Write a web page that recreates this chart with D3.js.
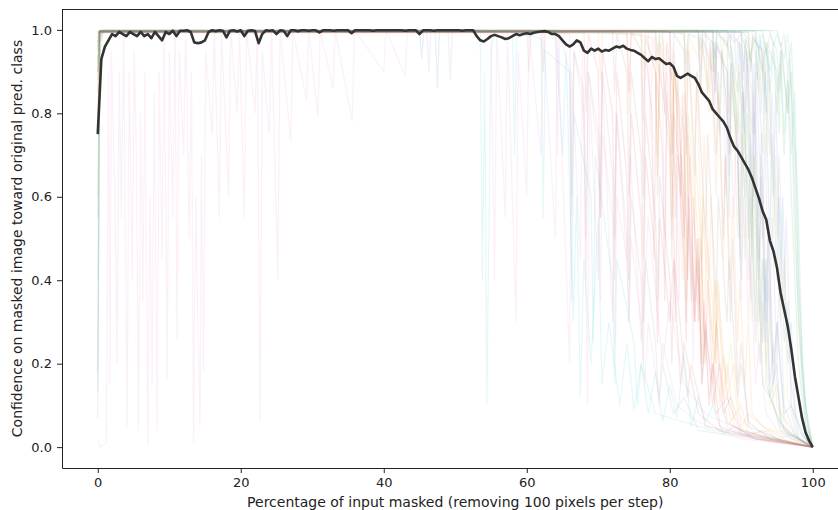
<!DOCTYPE html>
<html>
<head>
<meta charset="utf-8">
<script src="https://cdn.jsdelivr.net/npm/d3@7"></script>
<style>
  body { margin: 0; background: #fff; }
  #chart { width: 838px; height: 510px; }
  text { font-family: "DejaVu Sans", sans-serif; }
  .axis text { font-size: 13px; fill: #222; }
  .axis line, .axis path { stroke: #222; }
</style>
</head>
<body>
<div id="chart"></div>
<script>
// Axis ticks
const xTicks = [0, 20, 40, 60, 80, 100];
const yTicks = [0, 0.2, 0.4, 0.6, 0.8, 1.0];

// Mean confidence, one value every 0.5 % masked (0 .. 100)
const meanStep = 0.5;
const meanConf = [
  0.75, 0.93, 0.96, 0.975, 0.99, 0.985, 0.995, 0.99, 0.985, 0.995,
  0.99, 0.985, 0.995, 0.985, 0.99, 0.98, 0.995, 0.985, 0.975, 0.995,
  0.99, 0.998, 0.985, 0.998, 0.998, 0.999, 0.995, 0.97, 0.968, 0.97,
  0.975, 0.995, 0.999, 0.997, 0.999, 0.998, 0.982, 0.998, 0.999, 0.996,
  0.999, 0.985, 0.998, 0.999, 0.997, 0.968, 0.99, 0.999, 0.998, 0.999,
  0.99, 0.999, 0.998, 0.985, 0.999, 0.999, 0.997, 0.999, 0.999, 0.998,
  0.999, 0.999, 0.994, 0.999, 0.999, 0.999, 0.998, 0.999, 0.999, 0.999,
  0.999, 0.992, 0.999, 0.999, 0.999, 0.999, 0.999, 0.998, 0.999, 0.999,
  0.999, 0.999, 0.999, 0.999, 0.999, 0.999, 0.998, 0.999, 0.999, 0.999,
  0.99, 0.999, 0.999, 0.999, 0.998, 0.999, 0.999, 0.999, 0.999, 0.999,
  0.999, 0.999, 0.998, 0.999, 0.999, 0.999, 0.985, 0.975, 0.972, 0.978,
  0.985, 0.988, 0.985, 0.982, 0.978, 0.98, 0.985, 0.99, 0.987, 0.99,
  0.992, 0.99, 0.993, 0.995, 0.996, 0.997, 0.995, 0.99, 0.99, 0.985,
  0.975, 0.965, 0.96, 0.965, 0.975, 0.97, 0.95, 0.945, 0.955, 0.95,
  0.955, 0.948, 0.952, 0.95, 0.955, 0.96, 0.958, 0.962, 0.955, 0.952,
  0.95, 0.945, 0.94, 0.932, 0.925, 0.935, 0.93, 0.932, 0.925, 0.918,
  0.92, 0.912, 0.89, 0.885, 0.89, 0.895, 0.89, 0.885, 0.87, 0.85,
  0.84, 0.83, 0.81, 0.8, 0.79, 0.78, 0.765, 0.74, 0.72, 0.71,
  0.695, 0.68, 0.665, 0.645, 0.62, 0.595, 0.565, 0.545, 0.495, 0.47,
  0.43, 0.37, 0.33, 0.29, 0.235, 0.17, 0.12, 0.07, 0.035, 0.015,
  0.0
];

// Individual images: [percent masked, confidence]
const imgCurves = [
  [[0,0.13],[0.3,0.98],[0.6,0.997],[45,0.997],[45.3,0.93],[45.6,0.997],[47.2,0.997],[47.5,0.86],[47.8,0.997],[78,0.997],[78.3,0.94],[78.6,0.997],[82,0.99],[82.3,0.9],[82.6,0.99],[84,0.98],[84.3,0.85],[84.6,0.98],[86,0.9],[86.3,0.97],[87,0.75],[87.3,0.95],[88,0.8],[88.3,0.55],[88.6,0.92],[89.5,0.7],[90,0.4],[90.3,0.85],[91,0.5],[91.3,0.75],[92,0.3],[92.3,0.6],[93,0.25],[93.5,0.45],[94,0.12],[95,0.2],[95.5,0.06],[97,0.03],[100,0]],
  [[0,0.6],[0.3,0.99],[1,0.995],[70,0.995],[70.3,0.88],[70.6,0.995],[74,0.99],[74.3,0.8],[74.6,0.99],[78,0.98],[78.3,0.65],[78.6,0.97],[80,0.9],[80.3,0.55],[80.6,0.92],[81.5,0.75],[81.8,0.4],[82.1,0.85],[83,0.6],[83.3,0.3],[83.6,0.7],[84.5,0.45],[84.8,0.2],[85.1,0.5],[86,0.25],[86.3,0.4],[87,0.1],[87.5,0.22],[88.5,0.06],[90,0.1],[91,0.03],[94,0.04],[97,0.01],[100,0]],
  [[0,0.18],[0.3,0.97],[0.8,0.999],[88,0.999],[89,0.97],[90,0.99],[91,0.93],[92,0.98],[93,0.9],[93.5,0.97],[94,0.85],[94.5,0.95],[95,0.8],[95.5,0.92],[96,0.7],[96.5,0.88],[97,0.6],[97.5,0.4],[98,0.2],[99,0.05],[100,0]],
  [[0,0.9],[0.3,0.996],[74,0.996],[74.3,0.85],[74.6,0.996],[76,0.95],[76.3,0.6],[76.6,0.95],[77.5,0.8],[77.8,0.45],[78.1,0.9],[79,0.7],[79.3,0.35],[79.6,0.85],[80.5,0.6],[80.8,0.3],[81.1,0.7],[82,0.45],[82.3,0.25],[82.6,0.55],[83.5,0.3],[84,0.45],[84.5,0.15],[85,0.3],[86,0.1],[87,0.2],[88,0.06],[90,0.04],[92,0.02],[100,0]],
  [[0,0.07],[0.3,0.95],[0.8,0.998],[46,0.998],[46.3,0.9],[46.6,0.998],[49,0.998],[49.3,0.88],[49.6,0.998],[84,0.995],[84.3,0.9],[84.6,0.99],[86,0.97],[86.3,0.82],[86.6,0.96],[88,0.9],[88.3,0.7],[88.6,0.92],[89.5,0.8],[89.8,0.5],[90.1,0.85],[91,0.6],[91.3,0.35],[91.6,0.65],[92.5,0.4],[92.8,0.2],[93.1,0.45],[94,0.15],[94.5,0.25],[95.5,0.06],[97,0.02],[100,0]],
  [[0,0.85],[0.3,0.994],[62,0.994],[62.3,0.9],[62.6,0.994],[76,0.99],[76.3,0.78],[76.6,0.98],[78,0.9],[78.3,0.6],[78.6,0.92],[80,0.7],[80.3,0.45],[80.6,0.8],[82,0.55],[82.3,0.3],[82.6,0.6],[83.5,0.35],[84,0.5],[84.5,0.15],[85,0.28],[86.5,0.08],[88,0.12],[90,0.03],[100,0]],
  [[0,0.02],[0.3,0],[1.2,0.01],[1.5,0.9],[1.7,0.15],[1.9,0.95],[2.4,0.6],[2.7,0.2],[3,0.9],[3.3,0.55],[3.6,1],[4.1,0.05],[4.4,0.9],[4.8,0.4],[5.1,0.95],[5.4,0.7],[5.7,0.04],[6,0.8],[6.3,0.35],[6.6,0.9],[7,0.005],[7.3,0.6],[7.6,0.15],[7.9,0.85],[8.3,0.04],[8.6,0.9],[9,0.45],[9.3,1],[9.7,0.16],[10,0.95],[10.5,0.55],[10.8,1],[11.1,0.26],[11.4,0.95],[12,0.7],[12.3,1],[12.8,0.5],[13.1,0.9],[13.4,0.01],[13.7,0.6],[14,0.3],[14.3,0.05],[14.5,0.7],[14.8,0.18],[15.1,0.95],[16,0.75],[16.3,1],[17,0.55],[17.3,1],[18.3,0.6],[18.6,1],[19.5,0.8],[19.8,1],[20.5,0.55],[20.8,1],[22,0.8],[22.3,1],[22.7,0.06],[23,0.95],[24,0.75],[24.3,1],[25.2,0.4],[25.5,1],[27,0.73],[27.3,1],[29.2,0.83],[29.5,1],[30.8,0.79],[31.1,1],[32.9,0.86],[33.2,1],[35.6,0.78],[35.9,1],[40,0.9],[40.3,1],[43,0.89],[43.3,1],[55,1],[55.5,0.4],[55.8,1],[57,0.55],[57.3,1],[58.5,0.3],[58.8,0.95],[60,0.6],[60.3,1],[62,0.7],[62.3,1],[64,0.5],[64.3,1],[66,0.2],[66.3,0.9],[67.5,0.45],[67.8,0.95],[68.5,0.1],[68.8,0.85],[70,0.4],[70.5,0.9],[72,0.3],[72.5,0.8],[74,0.45],[74.5,0.7],[76,0.25],[77,0.55],[79,0.2],[80,0.35],[82,0.15],[85,0.08],[90,0.04],[100,0]],
  [[0,0.95],[0.3,0.997],[60,0.997],[60.3,0.9],[60.6,0.997],[66,0.99],[66.3,0.6],[66.6,0.95],[68,0.85],[68.3,0.5],[68.6,0.9],[70,0.75],[70.3,0.55],[70.6,0.9],[72,0.65],[72.3,0.4],[72.6,0.8],[74,0.5],[74.3,0.3],[74.6,0.6],[76,0.4],[76.3,0.2],[76.6,0.45],[78,0.25],[78.5,0.1],[79,0.2],[80.5,0.08],[82,0.12],[84,0.04],[88,0.03],[92,0.02],[100,0]],
  [[0,0.92],[0.3,0.995],[82,0.995],[82.3,0.92],[82.6,0.99],[84,0.93],[84.3,0.99],[85.5,0.85],[85.8,0.97],[87,0.8],[87.3,0.95],[88.5,0.7],[88.8,0.9],[89.5,0.5],[89.8,0.8],[90.5,0.45],[90.8,0.7],[91.5,0.3],[91.8,0.55],[92.5,0.2],[93,0.35],[94,0.1],[95,0.15],[96,0.04],[100,0]],
  [[0,0.4],[0.3,0.97],[0.8,1],[53.5,1],[53.8,0.4],[54.1,0.9],[54.4,0.1],[54.7,0.5],[55,0.95],[55.5,1],[64,1],[65,0.7],[65.5,0.95],[66.5,0.3],[67,0.6],[67.5,0.12],[68,0.45],[69,0.2],[70,0.55],[70.5,0.15],[71.5,0.3],[73,0.1],[74,0.25],[75,0.09],[76,0.2],[77,0.08],[78,0.18],[79,0.06],[80,0.15],[81,0.07],[82,0.22],[83,0.05],[84,0.12],[85,0.06],[86,0.1],[87.5,0.03],[89,0.05],[91,0.03],[93,0.04],[95,0.02],[97,0.03],[100,0]],
  [[0,0.98],[0.3,0.999],[86,0.999],[86.3,0.93],[86.6,0.999],[88,0.96],[88.3,0.99],[89.5,0.85],[89.8,0.97],[90.5,0.75],[90.8,0.93],[91.5,0.55],[91.8,0.8],[92.5,0.4],[92.8,0.7],[93.5,0.3],[93.8,0.5],[94.5,0.15],[95,0.3],[96,0.08],[97,0.1],[98,0.02],[100,0]],
  [[0,0.75],[0.3,0.998],[76,0.998],[76.3,0.9],[76.6,0.995],[78,0.9],[78.3,0.7],[78.6,0.97],[80,0.75],[80.3,0.5],[80.6,0.9],[82,0.6],[82.3,0.35],[82.6,0.75],[84,0.4],[84.3,0.2],[84.6,0.55],[86,0.25],[86.3,0.1],[86.6,0.35],[88,0.12],[89,0.2],[90,0.05],[91,0.08],[95,0.02],[100,0]],
  [[0,0.55],[0.3,0.996],[90,0.996],[91,0.98],[91.3,0.9],[91.6,0.98],[93,0.95],[93.3,0.85],[93.6,0.97],[95,0.9],[95.3,0.75],[95.6,0.95],[96.5,0.8],[97,0.9],[97.5,0.6],[98,0.3],[99,0.08],[100,0]],
  [[0,0.97],[0.3,0.993],[68,0.993],[68.3,0.8],[68.6,0.99],[70,0.9],[70.3,0.55],[70.6,0.95],[72,0.8],[72.3,0.5],[72.6,0.9],[74,0.65],[74.3,0.4],[74.6,0.8],[76,0.55],[76.3,0.3],[76.6,0.7],[78,0.45],[78.3,0.25],[78.6,0.55],[80,0.3],[80.5,0.45],[81.5,0.15],[82,0.25],[84,0.08],[87,0.04],[92,0.02],[100,0]],
  [[0,0.99],[0.3,0.998],[88,0.998],[88.3,0.93],[88.6,0.99],[90,0.96],[90.3,0.8],[90.6,0.95],[91.5,0.85],[91.8,0.6],[92.1,0.9],[93,0.5],[93.3,0.75],[94,0.3],[94.3,0.55],[95,0.2],[95.3,0.4],[96,0.1],[97.5,0.03],[100,0]],
  [[0,0.88],[0.3,0.997],[80,0.997],[80.3,0.88],[80.6,0.99],[82,0.95],[82.3,0.7],[82.6,0.95],[83.5,0.65],[83.8,0.9],[85,0.5],[85.3,0.75],[86.5,0.35],[86.8,0.6],[88,0.3],[88.3,0.45],[89.5,0.12],[90,0.2],[91,0.06],[94,0.02],[100,0]],
  [[0,0.9],[0.3,0.995],[64,0.995],[64.3,0.7],[64.6,0.99],[66,0.9],[66.3,0.55],[66.6,0.95],[68,0.8],[68.3,0.4],[68.6,0.9],[70,0.7],[70.3,0.35],[70.6,0.75],[72,0.55],[72.3,0.25],[72.6,0.6],[74,0.45],[74.3,0.3],[74.6,0.5],[76,0.3],[76.5,0.15],[77,0.3],[78.5,0.12],[79,0.25],[81,0.1],[84,0.06],[90,0.02],[100,0]],
  [[0,0.96],[0.3,0.999],[84,0.999],[84.3,0.95],[84.6,0.999],[86,0.97],[86.3,0.85],[86.6,0.97],[88,0.9],[88.3,0.65],[88.6,0.88],[89.5,0.7],[89.8,0.45],[90.1,0.75],[91,0.4],[91.3,0.6],[92,0.25],[92.5,0.4],[93,0.15],[94,0.12],[96,0.04],[100,0]],
  [[0,0.8],[0.3,0.994],[78,0.994],[78.3,0.9],[78.6,0.99],[80,0.92],[80.3,0.7],[80.6,0.9],[82,0.75],[82.3,0.55],[82.6,0.8],[84,0.5],[84.3,0.35],[84.6,0.6],[86,0.35],[86.3,0.2],[86.6,0.4],[88,0.15],[88.5,0.25],[89.5,0.08],[92,0.03],[100,0]],
  [[0,0.92],[0.3,0.998],[92,0.998],[92.5,0.95],[93,0.99],[94,0.9],[94.5,0.97],[95,0.85],[95.5,0.95],[96,0.75],[96.5,0.9],[97,0.7],[97.5,0.85],[98,0.4],[99,0.1],[100,0]],
  [[0,0.99],[0.3,0.995],[90,0.995],[90.3,0.9],[90.6,0.98],[91.5,0.92],[91.8,0.75],[92.1,0.95],[93,0.7],[93.3,0.9],[94,0.5],[94.3,0.75],[95,0.4],[95.3,0.6],[96,0.25],[96.5,0.35],[97,0.1],[98.5,0.03],[100,0]],
  [[0,0.97],[0.3,0.999],[84,0.999],[84.3,0.85],[84.6,0.97],[85.5,0.8],[85.8,0.95],[86.5,0.6],[86.8,0.85],[87.5,0.45],[87.8,0.7],[88.5,0.4],[88.8,0.6],[89.5,0.25],[89.8,0.4],[90.5,0.15],[91,0.3],[91.5,0.08],[93,0.05],[97,0.02],[100,0]],
  [[0,0.996],[86,0.996],[86.3,0.9],[86.6,0.99],[88,0.97],[88.3,0.8],[88.6,0.96],[89.5,0.75],[89.8,0.9],[90.5,0.6],[90.8,0.8],[91.5,0.45],[91.8,0.7],[92.5,0.3],[93,0.45],[93.5,0.15],[94.5,0.1],[95.5,0.04],[100,0]],
  [[0,0.99],[0.3,0.998],[79,0.998],[79.3,0.8],[79.6,0.97],[80.5,0.85],[80.8,0.55],[81.1,0.9],[82,0.5],[82.3,0.8],[83,0.35],[83.3,0.6],[84,0.3],[84.3,0.5],[85,0.2],[85.3,0.4],[86,0.15],[86.5,0.3],[87.5,0.08],[88.5,0.12],[90,0.04],[94,0.02],[100,0]],
  [[0,0.97],[0.3,0.994],[91,0.994],[91.3,0.9],[91.6,0.99],[92.5,0.95],[92.8,0.8],[93.1,0.97],[94,0.7],[94.3,0.85],[95,0.5],[95.3,0.7],[96,0.35],[96.3,0.55],[97,0.15],[98,0.04],[100,0]],
  [[0,0.997],[72,0.997],[72.3,0.85],[72.6,0.99],[74,0.9],[74.3,0.6],[74.6,0.9],[76,0.7],[76.3,0.45],[76.6,0.8],[78,0.55],[78.3,0.35],[78.6,0.65],[80,0.4],[80.3,0.2],[80.6,0.45],[82,0.2],[82.5,0.12],[83,0.2],[85,0.05],[100,0]],
  [[0,0.98],[0.3,0.996],[86,0.996],[86.3,0.85],[86.6,0.97],[87.5,0.9],[87.8,0.6],[88.1,0.9],[89,0.55],[89.3,0.8],[90,0.35],[90.3,0.6],[91,0.3],[91.3,0.45],[92,0.15],[92.5,0.25],[93.5,0.08],[95,0.04],[100,0]],
  [[0,0.99],[0.3,0.998],[93,0.998],[93.5,0.94],[94,0.99],[95,0.95],[95.3,0.85],[95.6,0.97],[96.5,0.8],[96.8,0.93],[97.5,0.5],[98.5,0.15],[100,0]],
  [[0,0.97],[0.3,0.995],[87,0.995],[87.3,0.92],[87.6,0.99],[89,0.9],[89.3,0.75],[89.6,0.92],[90.5,0.7],[90.8,0.88],[91.5,0.5],[91.8,0.7],[92.5,0.4],[92.8,0.6],[93.5,0.2],[94,0.3],[95,0.1],[97,0.03],[100,0]],
  [[0,0.9],[0.3,0.999],[94,0.999],[94.5,0.96],[95,0.99],[96,0.93],[96.5,0.99],[97,0.85],[97.5,0.7],[98.2,0.3],[99,0.06],[100,0]],
  [[0,0.995],[92,0.995],[92.3,0.88],[92.6,0.99],[93.5,0.8],[93.8,0.95],[94.5,0.6],[94.8,0.85],[95.5,0.4],[95.8,0.6],[96.5,0.2],[97,0.3],[97.5,0.08],[99,0.02],[100,0]],
  [[0,0.85],[0.3,0.997],[82,0.997],[82.3,0.8],[82.6,0.97],[83.5,0.7],[83.8,0.9],[84.5,0.45],[84.8,0.75],[85.5,0.4],[85.8,0.6],[86.5,0.2],[86.8,0.4],[87.5,0.12],[88,0.2],[89,0.05],[92,0.03],[100,0]],
  [[0,0.9],[0.3,0.998],[95,0.998],[95.5,0.96],[96,0.99],[96.5,0.9],[97,0.97],[97.5,0.75],[98,0.55],[98.5,0.2],[99.3,0.05],[100,0]],
  [[0,0.995],[80,0.995],[80.3,0.7],[80.6,0.95],[81.5,0.6],[81.8,0.85],[82.5,0.4],[82.8,0.7],[83.5,0.3],[83.8,0.5],[84.5,0.2],[84.8,0.35],[85.5,0.1],[86,0.2],[87,0.05],[90,0.03],[100,0]],
  [[0,0.98],[0.3,0.997],[89,0.997],[89.3,0.9],[89.6,0.98],[90.5,0.8],[90.8,0.95],[91.5,0.65],[91.8,0.85],[92.5,0.45],[92.8,0.65],[93.5,0.25],[93.8,0.4],[94.5,0.1],[95.5,0.05],[100,0]],
  [[0,0.93],[0.3,0.996],[85,0.996],[85.3,0.85],[85.6,0.97],[86.5,0.7],[86.8,0.9],[87.5,0.5],[87.8,0.7],[88.5,0.3],[88.8,0.5],[89.5,0.15],[90,0.25],[91,0.05],[95,0.02],[100,0]],
  [[0,0.96],[0.3,0.999],[77,0.999],[77.3,0.75],[77.6,0.98],[79,0.85],[79.3,0.5],[79.6,0.9],[81,0.6],[81.3,0.35],[81.6,0.7],[83,0.4],[83.3,0.2],[83.6,0.45],[85,0.25],[85.5,0.12],[86,0.2],[88,0.05],[92,0.02],[100,0]],
  [[0,0.994],[90,0.994],[90.3,0.88],[90.6,0.98],[91.5,0.75],[91.8,0.92],[92.5,0.55],[92.8,0.75],[93.5,0.35],[93.8,0.55],[94.5,0.2],[95,0.3],[96,0.07],[98,0.02],[100,0]],
  [[0,0.96],[0.3,0.998],[91,0.998],[91.3,0.92],[91.6,0.99],[92.5,0.85],[92.8,0.96],[93.5,0.7],[93.8,0.88],[94.5,0.5],[94.8,0.7],[95.5,0.3],[96,0.45],[96.5,0.12],[97.5,0.04],[100,0]],
  [[0,0.95],[0.3,0.997],[58,0.997],[58.3,0.7],[58.6,0.99],[62,0.98],[62.3,0.55],[62.6,0.95],[66,0.9],[66.3,0.35],[66.6,0.8],[69,0.6],[69.3,0.25],[69.6,0.7],[72,0.4],[72.3,0.15],[72.6,0.45],[75,0.25],[75.5,0.1],[76,0.2],[78,0.08],[82,0.06],[86,0.04],[90,0.03],[95,0.02],[100,0]]
];

const xLabel = "Percentage of input masked (removing 100 pixels per step)";
const yLabel = "Confidence on masked image toward original pred. class";

function initChart() {
    const margin = { top: 9, right: -10.5, bottom: 42, left: 62 };
    const fullW = 838, fullH = 510;
    const width = fullW - margin.left - margin.right;
    const height = fullH - margin.top - margin.bottom;

    const root = d3.select("#chart")
        .append("svg")
        .attr("width", fullW)
        .attr("height", fullH);

    const svg = root.append("g")
        .attr("transform", `translate(${margin.left},${margin.top})`);

    // Scales (matplotlib style 5% margins)
    const x = d3.scaleLinear().domain([-5, 105]).range([0, width]);
    const y = d3.scaleLinear().domain([-0.05, 1.05]).range([height, 0]);

    svg.append("clipPath")
        .attr("id", "plot-clip")
        .append("rect")
        .attr("width", width)
        .attr("height", height);

    const plot = svg.append("g").attr("clip-path", "url(#plot-clip)");

    const line = d3.line()
        .x(d => x(d[0]))
        .y(d => y(d[1]));

    // Faint per-image curves, colours cycle like matplotlib's tab10
    const colors = d3.schemeCategory10;
    plot.selectAll(".img-curve")
        .data(imgCurves)
        .join("path")
        .attr("class", "img-curve")
        .attr("fill", "none")
        .attr("stroke", (d, i) => colors[i % 10])
        .attr("stroke-opacity", 0.1)
        .attr("stroke-width", 1.3)
        .attr("d", line);

    // Mean curve
    const meanPts = meanConf.map((v, i) => [i * meanStep, v]);
    plot.append("path")
        .datum(meanPts)
        .attr("fill", "none")
        .attr("stroke", "#333")
        .attr("stroke-width", 2.6)
        .attr("stroke-linejoin", "round")
        .attr("d", line);

    // Axes
    svg.append("g")
        .attr("class", "axis")
        .call(d3.axisLeft(y)
            .tickValues(yTicks)
            .tickFormat(d3.format(".1f"))
            .tickSize(5)
            .tickSizeOuter(0)
            .tickPadding(5));

    svg.append("g")
        .attr("class", "axis")
        .attr("transform", `translate(0,${height})`)
        .call(d3.axisBottom(x)
            .tickValues(xTicks)
            .tickFormat(d3.format("d"))
            .tickSize(5)
            .tickSizeOuter(0)
            .tickPadding(5));

    // Top and right spines
    svg.append("line")
        .attr("x1", 0).attr("x2", width)
        .attr("y1", 0.5).attr("y2", 0.5)
        .attr("stroke", "#222");
    svg.append("line")
        .attr("x1", width).attr("x2", width)
        .attr("y1", 0).attr("y2", height)
        .attr("stroke", "#222");

    // Axis titles
    root.append("text")
        .attr("x", margin.left + width / 2)
        .attr("y", 507)
        .attr("text-anchor", "middle")
        .attr("font-size", "14px")
        .attr("fill", "#222")
        .text(xLabel);

    root.append("text")
        .attr("transform", `translate(21.5,${margin.top + height / 2}) rotate(-90)`)
        .attr("text-anchor", "middle")
        .attr("font-size", "14px")
        .attr("fill", "#222")
        .text(yLabel);
}

initChart();
</script>
</body>
</html>
